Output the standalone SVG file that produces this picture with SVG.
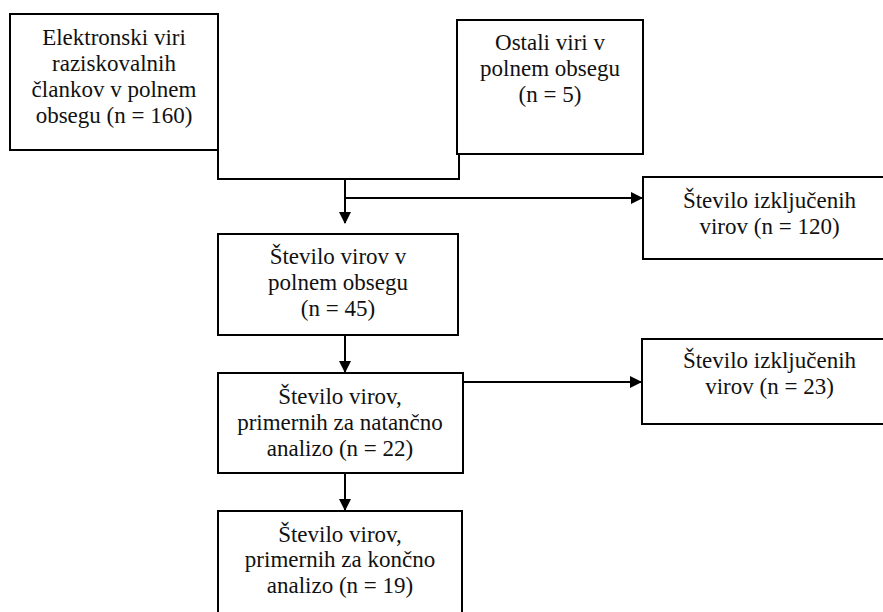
<svg xmlns="http://www.w3.org/2000/svg" width="883" height="612" viewBox="0 0 883 612">
<defs>
<marker id="ah" markerWidth="12" markerHeight="12" refX="11" refY="6" orient="auto" markerUnits="userSpaceOnUse">
<path d="M0,0 L12,6 L0,12 Z" fill="#000"/>
</marker>
<style>
.box{fill:#fff;stroke:#000;stroke-width:2}
.t{font-family:"Liberation Serif","Times New Roman",serif;font-size:23px;fill:#111;text-anchor:middle}
.c{fill:none;stroke:#000;stroke-width:2}
</style>
</defs>
<rect width="883" height="612" fill="#fff"/>
<g id="connectors">
<polyline class="c" points="218,150 218,179 459,179 459,154"/>
<line class="c" x1="345" y1="179" x2="345" y2="223" marker-end="url(#ah)"/>
<line class="c" x1="345" y1="198" x2="642" y2="198" marker-end="url(#ah)"/>
<line class="c" x1="345" y1="335" x2="345" y2="372" marker-end="url(#ah)"/>
<line class="c" x1="463" y1="382" x2="641" y2="382" marker-end="url(#ah)"/>
<line class="c" x1="345" y1="473" x2="345" y2="510" marker-end="url(#ah)"/>
</g>
<g id="n1">
<rect class="box" x="10" y="14" width="208" height="136"/>
<text class="t" x="114" y="45">Elektronski viri</text>
<text class="t" x="114" y="71">raziskovalnih</text>
<text class="t" x="114" y="97">člankov v polnem</text>
<text class="t" x="114" y="123">obsegu (n = 160)</text>
</g>
<g id="n2">
<rect class="box" x="457" y="20" width="186" height="134"/>
<text class="t" x="550" y="50">Ostali viri v</text>
<text class="t" x="550" y="76">polnem obsegu</text>
<text class="t" x="550" y="102">(n = 5)</text>
</g>
<g id="n3">
<rect class="box" x="643" y="177" width="253" height="82"/>
<text class="t" x="769.5" y="208">Število izključenih</text>
<text class="t" x="769.5" y="234">virov (n = 120)</text>
</g>
<g id="n4">
<rect class="box" x="218" y="234" width="240" height="101"/>
<text class="t" x="338" y="264">Število virov v</text>
<text class="t" x="338" y="290">polnem obsegu</text>
<text class="t" x="338" y="316">(n = 45)</text>
</g>
<g id="n5">
<rect class="box" x="218" y="373" width="245" height="100"/>
<text class="t" x="340" y="404">Število virov,</text>
<text class="t" x="340" y="430">primernih za natančno</text>
<text class="t" x="340" y="456">analizo (n = 22)</text>
</g>
<g id="n6">
<rect class="box" x="642" y="339" width="254" height="85"/>
<text class="t" x="769.5" y="368">Število izključenih</text>
<text class="t" x="769.5" y="394">virov (n = 23)</text>
</g>
<g id="n7">
<rect class="box" x="218" y="511" width="244" height="110"/>
<text class="t" x="340" y="542">Število virov,</text>
<text class="t" x="340" y="567">primernih za končno</text>
<text class="t" x="340" y="593">analizo (n = 19)</text>
</g>
</svg>
